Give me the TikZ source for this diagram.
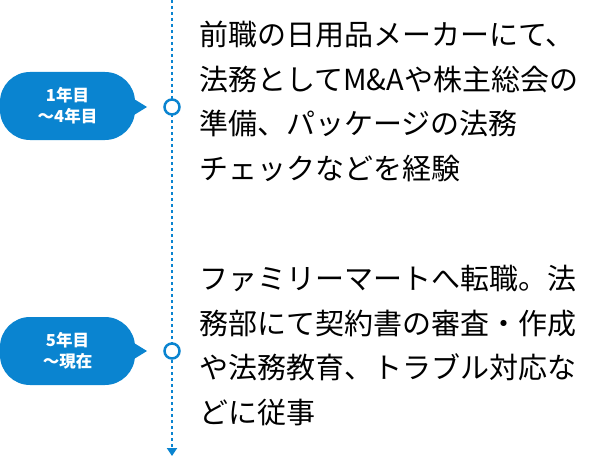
\documentclass[tikz,border=0pt]{standalone}
\usepackage{fontspec}
\setmainfont{Noto Sans CJK JP}
\usetikzlibrary{arrows.meta,positioning}
\definecolor{tlblue}{HTML}{0A84D0}
\tikzset{
  bubble/.style={fill=tlblue,rounded corners=30pt,minimum width=135pt,minimum height=68pt,
    text=white,font=\fontsize{16.5}{21}\selectfont\bfseries,align=center,inner sep=0pt},
  dot/.style={circle,draw=tlblue,line width=2.5pt,fill=white,minimum size=15pt,inner sep=0pt},
  body/.style={anchor=north west,align=left,font=\fontsize{29}{44.5}\selectfont,inner sep=0pt}
}
\begin{document}
\begin{tikzpicture}[x=1pt,y=-1pt]
    \useasboundingbox (0,0) rectangle (600,460);
    \coordinate (top) at (172,0);
    \coordinate (bot) at (172,456);
    \draw[tlblue,line width=2.2pt,dash pattern=on 3pt off 3pt,-{Triangle[length=8pt,width=10pt]}] (top) -- (bot);
    % 1年目
    \node[dot] (d1) at (172,107) {};
    \node[bubble] (b1) at (67.5,106) {1年目\\～4年目};
    \fill[tlblue] (134,99) -- (147,107) -- (134,115) -- cycle;
    \node[body] (t1) at (199,21) {前職の日用品メーカーにて、\\法務としてM\&Aや株主総会の\\準備、パッケージの法務\\チェックなどを経験};
    % 5年目
    \node[dot] (d2) at (172,351) {};
    \node[bubble] (b2) at (67.5,351) {5年目\\～現在};
    \fill[tlblue] (134,343) -- (147,351) -- (134,359) -- cycle;
    \node[body] (t2) at (199,265) {ファミリーマートへ転職。法\\務部にて契約書の審査・作成\\や法務教育、トラブル対応な\\どに従事};
\end{tikzpicture}
\end{document}
